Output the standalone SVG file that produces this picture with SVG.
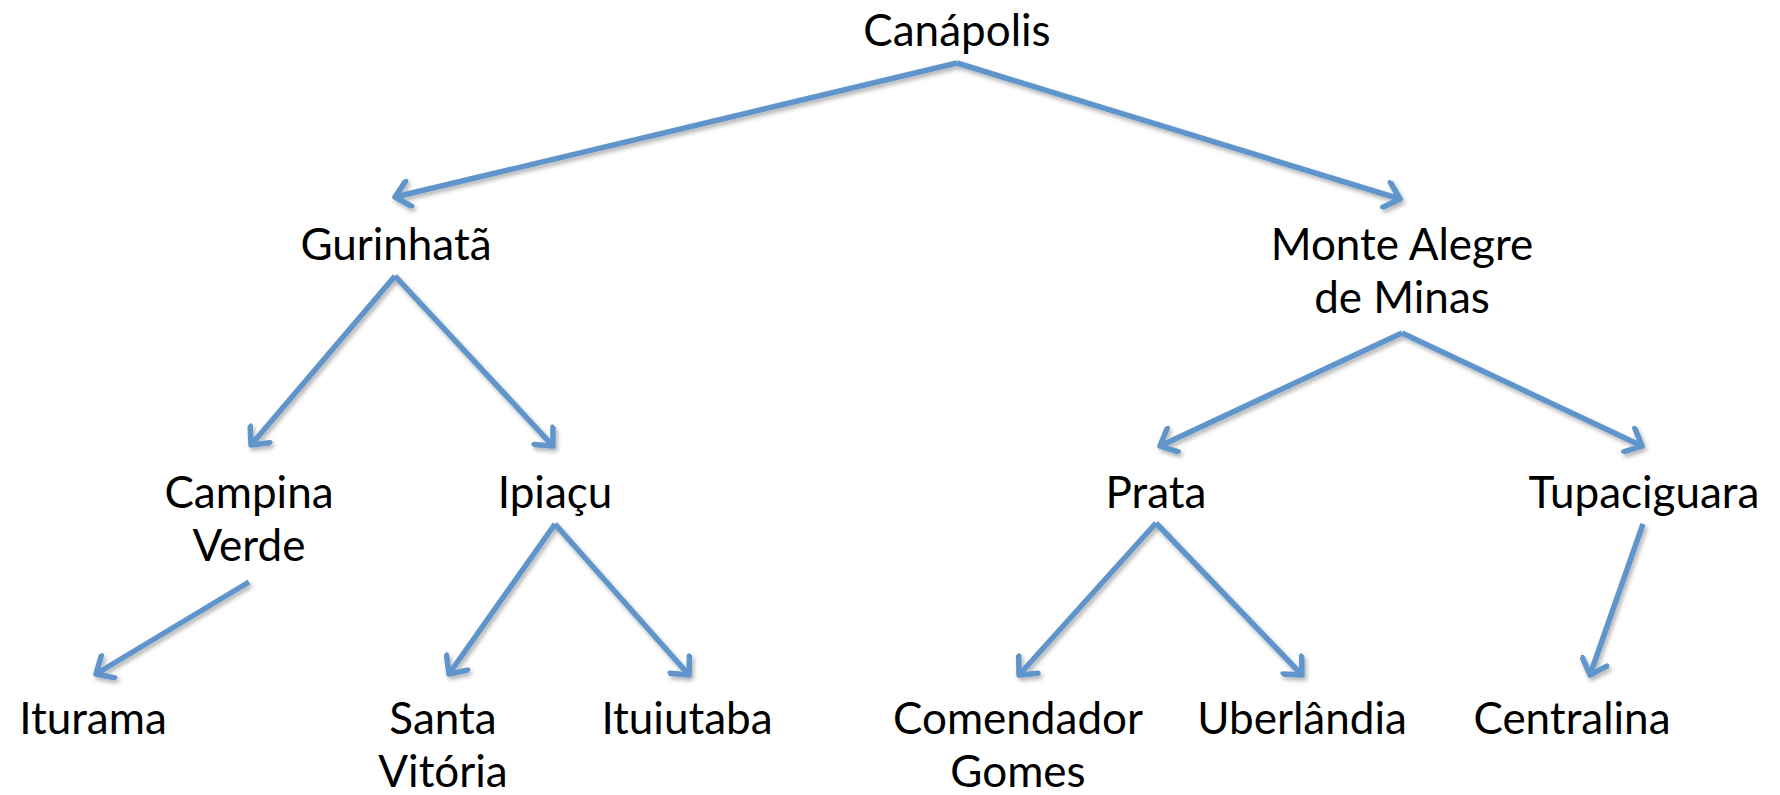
<svg xmlns="http://www.w3.org/2000/svg" width="1780" height="795" viewBox="0 0 1780 795">
<style>
.t{font-family:Lato,"Open Sans","Liberation Sans",sans-serif;font-size:44px;fill:#000;text-anchor:middle}
.c{stroke:#5E95CB;stroke-width:5.5;fill:none;marker-end:url(#ah);filter:url(#sh)}
</style>
<defs>
<marker id="ah" markerUnits="userSpaceOnUse" viewBox="0 0 30 30" markerWidth="30" markerHeight="30" refX="24" refY="15" orient="auto">
<path d="M10,2 L24,15 L10,28" fill="none" stroke="#5E95CB" stroke-width="5.5" stroke-linecap="round" stroke-linejoin="round"/>
</marker>
<filter id="sh" x="-20%" y="-20%" width="140%" height="140%">
<feDropShadow dx="2" dy="3" stdDeviation="2" flood-color="#000" flood-opacity="0.3"/>
</filter>
</defs>
<rect width="1780" height="795" fill="#fff"/>
<g id="connectors">
<line class="c" x1="957" y1="63" x2="395" y2="197"/>
<line class="c" x1="957" y1="63" x2="1400" y2="199"/>
<line class="c" x1="395" y1="276" x2="251" y2="445"/>
<line class="c" x1="395" y1="276" x2="553" y2="446"/>
<line class="c" x1="1402" y1="333" x2="1160" y2="446"/>
<line class="c" x1="1402" y1="333" x2="1642" y2="446"/>
<line class="c" x1="249" y1="582" x2="96" y2="674"/>
<line class="c" x1="555" y1="524" x2="449" y2="674"/>
<line class="c" x1="555" y1="524" x2="689" y2="675"/>
<line class="c" x1="1156" y1="523" x2="1019" y2="675"/>
<line class="c" x1="1156" y1="523" x2="1302" y2="675"/>
<line class="c" x1="1643" y1="524" x2="1590" y2="675"/>
</g>
<g id="n-canapolis"><text class="t" x="957" y="46">Canápolis</text></g>
<g id="n-gurinhata"><text class="t" x="396" y="260">Gurinhatã</text></g>
<g id="n-montealegre"><text class="t" x="1402" y="260">Monte Alegre</text><text class="t" x="1402" y="313">de Minas</text></g>
<g id="n-campinaverde"><text class="t" x="249" y="508">Campina</text><text class="t" x="249" y="561">Verde</text></g>
<g id="n-ipiacu"><text class="t" x="555" y="508">Ipiaçu</text></g>
<g id="n-prata"><text class="t" x="1156" y="508">Prata</text></g>
<g id="n-tupaciguara"><text class="t" x="1644" y="508">Tupaciguara</text></g>
<g id="n-iturama"><text class="t" x="93" y="734">Iturama</text></g>
<g id="n-santavitoria"><text class="t" x="443" y="734">Santa</text><text class="t" x="443" y="787">Vitória</text></g>
<g id="n-ituiutaba"><text class="t" x="687" y="734">Ituiutaba</text></g>
<g id="n-comendadorgomes"><text class="t" x="1018" y="734">Comendador</text><text class="t" x="1018" y="787">Gomes</text></g>
<g id="n-uberlandia"><text class="t" x="1302" y="734">Uberlândia</text></g>
<g id="n-centralina"><text class="t" x="1572" y="734">Centralina</text></g>
</svg>
